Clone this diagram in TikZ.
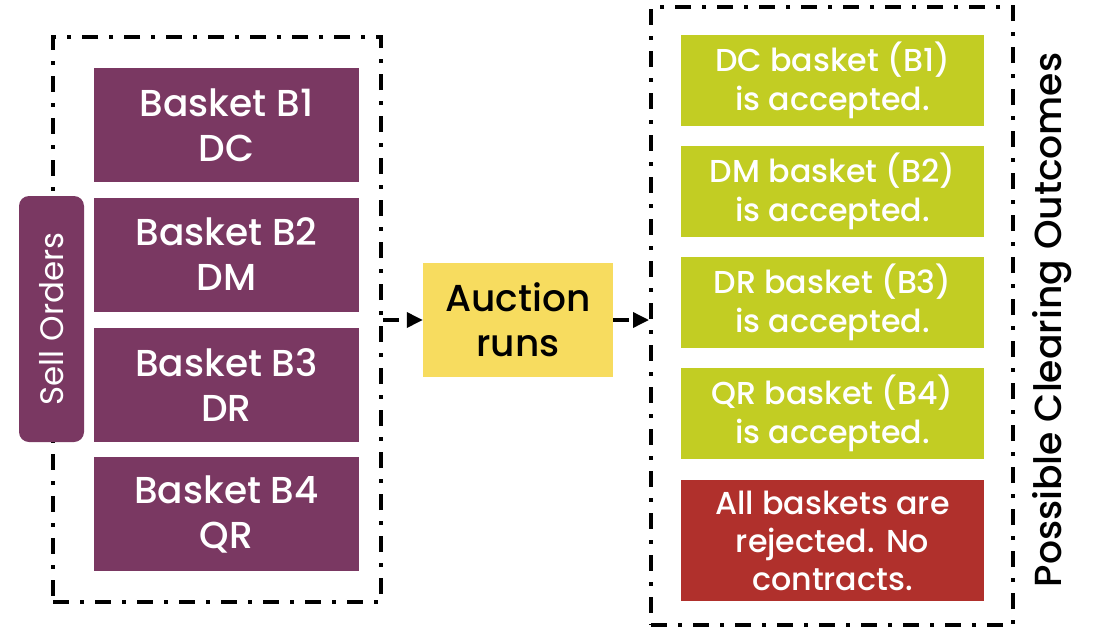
\documentclass[tikz,border=0pt]{standalone}
\usepackage{fontspec}
\setmainfont{Poppins Medium}
\newfontfamily\poppinsreg{Poppins}
\usetikzlibrary{arrows.meta}
\definecolor{plum}{HTML}{7A3862}
\definecolor{lime}{HTML}{C2CD23}
\definecolor{brick}{HTML}{B0302C}
\definecolor{sun}{HTML}{F7DC5F}
\tikzset{
  frame/.style={draw=black, line width=4pt, dash pattern=on 16pt off 11pt on 4pt off 11pt, inner sep=0pt},
  basket/.style={fill=plum, text=white, minimum width=265pt, minimum height=114pt, align=center, inner sep=0pt,
    font=\fontsize{37.5}{45}\selectfont},
  outcome/.style={fill=lime, text=white, minimum width=303pt, minimum height=91pt, align=center, inner sep=0pt,
    font=\fontsize{31.7}{39}\selectfont},
  flow/.style={line width=3.5pt, dash pattern=on 16pt off 10pt, -{Triangle[length=16pt,width=15pt]}},
}
\begin{document}
\begin{tikzpicture}[x=1pt,y=-1pt]
\useasboundingbox (0,0) rectangle (1097,629);
% dash-dotted frames
\node[frame, minimum width=328pt, minimum height=565pt] (sellframe) at (217,319.5) {};
\node[frame, minimum width=362pt, minimum height=618pt] (outframe) at (832,316) {};
% sell-order baskets
\node[basket] (b1) at (226.5,125) {Basket B1\\DC};
\node[basket] (b2) at (226.5,254.5) {Basket B2\\DM};
\node[basket] (b3) at (226.5,385) {Basket B3\\DR};
\node[basket] (b4) at (226.5,514) {Basket B4\\QR};
\node[fill=plum, rounded corners=10pt, minimum width=65pt, minimum height=246pt, inner sep=0pt] (sell) at (51.5,319) {};
\node[rotate=90, text=white, font=\poppinsreg\fontsize{32.5}{36}\selectfont] (selltxt) at (sell.center) {Sell Orders};
% auction
\node[fill=sun, minimum width=190pt, minimum height=114pt, align=center, inner sep=0pt,
  font=\fontsize{37.5}{45}\selectfont] (auction) at (518,320) {Auction\\runs};
% outcomes
\node[outcome] (o1) at (832.5,80.5) {DC basket (B1)\\is accepted.};
\node[outcome] (o2) at (832.5,191) {DM basket (B2)\\is accepted.};
\node[outcome] (o3) at (832.5,302) {DR basket (B3)\\is accepted.};
\node[outcome] (o4) at (832.5,413) {QR basket (B4)\\is accepted.};
\node[outcome, fill=brick, minimum height=121pt, font=\fontsize{31.7}{38}\selectfont] (o5) at (832.5,540.5)
  {All baskets are\\rejected. No\\contracts.};
\node[rotate=90, font=\fontsize{37.7}{40}\selectfont] (outtxt) at (1052,320) {Possible Clearing Outcomes};
% flow arrows
\draw[flow] (sellframe.east |- auction.west) -- (auction.west);
\draw[flow] (auction.east) -- (auction.east -| outframe.west);
\end{tikzpicture}
\end{document}
